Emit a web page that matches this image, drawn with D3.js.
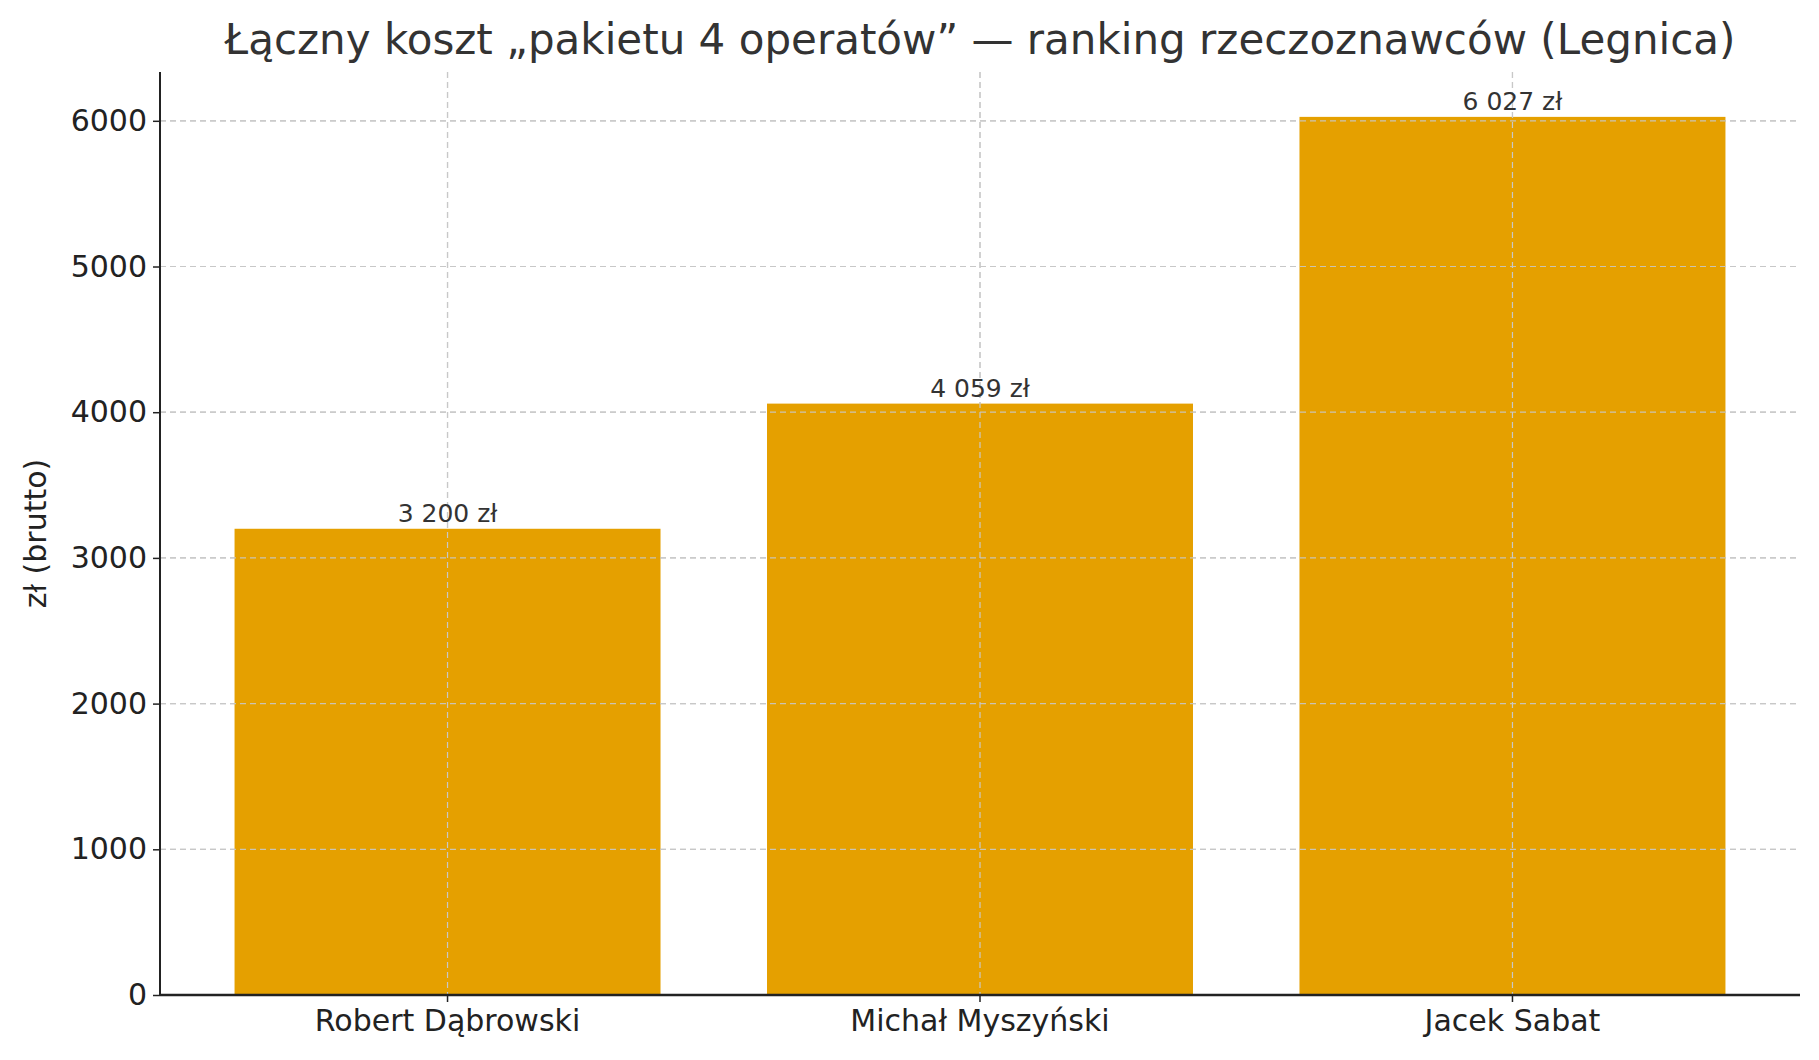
<!DOCTYPE html><html><head><meta charset="utf-8"><script src="https://cdn.jsdelivr.net/npm/d3@7"></script>
<style>body{margin:0;background:#fff}text{font-family:"DejaVu Sans",sans-serif}</style></head><body><svg id="c" width="1819" height="1060"></svg><script>
const categories=["Robert Dąbrowski","Michał Myszyński","Jacek Sabat"];
const values=[3200,4059,6027];
const labels=["3 200 zł","4 059 zł","6 027 zł"];
const yTicks=[0,1000,2000,3000,4000,5000,6000];
const svg=d3.select("#c");
const L=160,R=1800,T=72,B=995;
const x=d3.scaleBand().domain(categories).range([L,R]).paddingInner(0.2).paddingOuter(0.14);
const y=d3.scaleLinear().domain([0,6335]).range([B,T]);
const g=svg.append("g");
yTicks.forEach(t=>g.append("line").attr("x1",L).attr("x2",R).attr("y1",y(t)).attr("y2",y(t)).attr("stroke","#c8c8c8").attr("stroke-dasharray","6,4").attr("stroke-width",1.2));
categories.forEach(c=>g.append("line").attr("x1",x(c)+x.bandwidth()/2).attr("x2",x(c)+x.bandwidth()/2).attr("y1",T).attr("y2",B).attr("stroke","#c8c8c8").attr("stroke-dasharray","6,4").attr("stroke-width",1.2));
svg.selectAll(".bar").data(values).enter().append("rect").attr("x",(d,i)=>x(categories[i])).attr("width",x.bandwidth()).attr("y",d=>y(d)).attr("height",d=>B-y(d)).attr("fill","#E5A000");
// re-draw vertical grid on top (visible in reference)
categories.forEach(c=>svg.append("line").attr("x1",x(c)+x.bandwidth()/2).attr("x2",x(c)+x.bandwidth()/2).attr("y1",T).attr("y2",B).attr("stroke","#c8c8c8").attr("stroke-dasharray","6,4").attr("stroke-width",1.2));
yTicks.forEach(t=>svg.append("line").attr("x1",L).attr("x2",R).attr("y1",y(t)).attr("y2",y(t)).attr("stroke","#c8c8c8").attr("stroke-dasharray","6,4").attr("stroke-width",1.2).attr("opacity",0.9));
svg.selectAll(".lbl").data(values).enter().append("text").attr("x",(d,i)=>x(categories[i])+x.bandwidth()/2).attr("y",d=>y(d)-7).attr("text-anchor","middle").attr("font-size",25).attr("fill","#333").text((d,i)=>labels[i]);
const ya=svg.append("g").attr("transform",`translate(${L},0)`).call(d3.axisLeft(y).tickValues(yTicks).tickFormat(d3.format("d")).tickSize(7).tickPadding(6));
ya.select(".domain").attr("stroke","#222").attr("stroke-width",2).attr("d",`M0,${B}V${T}`);
ya.selectAll("text").attr("font-size",30).attr("fill","#222");
ya.selectAll(".tick line").attr("stroke","#222").attr("stroke-width",1.5);
const xa=svg.append("g").attr("transform",`translate(0,${B})`).call(d3.axisBottom(x).tickSize(7).tickPadding(8));
xa.select(".domain").attr("stroke","#222").attr("stroke-width",2.5).attr("d",`M${L},0H${R}`);
xa.selectAll("text").attr("font-size",30).attr("fill","#222");
xa.selectAll(".tick line").attr("stroke","#222").attr("stroke-width",1.5);
svg.append("text").attr("transform",`translate(46,${(T+B)/2}) rotate(-90)`).attr("text-anchor","middle").attr("font-size",30).attr("fill","#222").text("zł (brutto)");
svg.append("text").attr("x",(L+R)/2).attr("y",54).attr("text-anchor","middle").attr("font-size",42).attr("fill","#333").text("Łączny koszt „pakietu 4 operatów” — ranking rzeczoznawców (Legnica)");
</script></body></html>
